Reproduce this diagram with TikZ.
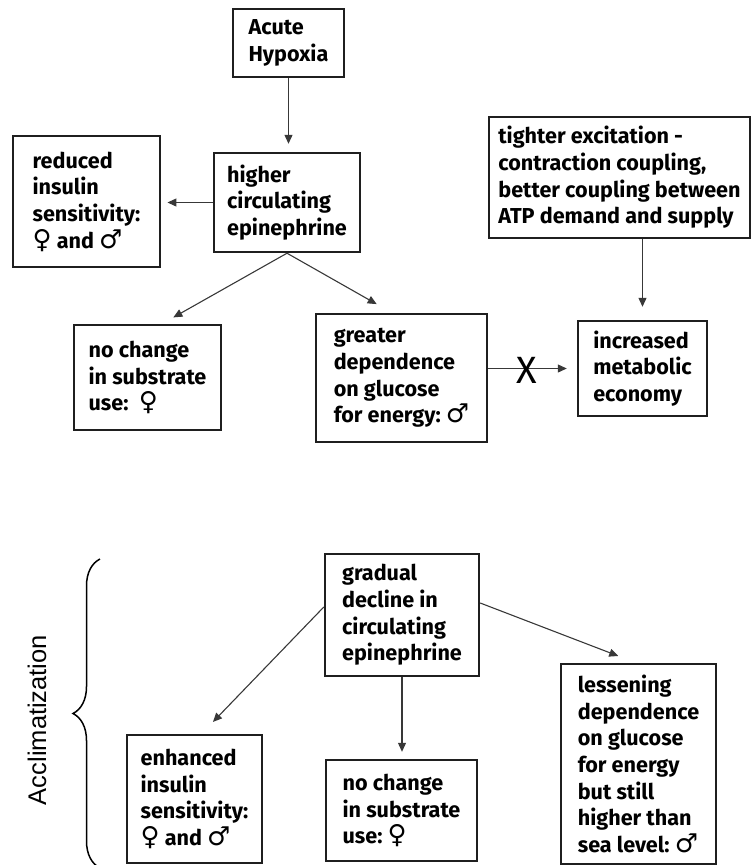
\documentclass[tikz,border=0pt]{standalone}
\usepackage{fontspec}
\setmainfont{Fira Sans}[Ligatures=NoCommon]
\newfontfamily\symf{DejaVu Sans}
\newfontfamily\labf{Liberation Sans}
\usetikzlibrary{arrows.meta,decorations.pathreplacing,calc}
\newcommand{\fem}{{\symf\mdseries\fontsize{26}{26.7}\selectfont ♀}}
\newcommand{\mal}{{\symf\mdseries\fontsize{26}{26.7}\selectfont ♂}}
\begin{document}
\begin{tikzpicture}[x=1pt,y=-1pt,
  box/.style={draw=black!88, line width=2.4pt, align=left,
    font=\bfseries\fontsize{21.6}{26.7}\selectfont, inner sep=0pt},
  arr/.style={draw=black!78, line width=1.1pt,
    -{Triangle[length=9pt,width=8pt]}},
]
\useasboundingbox (0,0) rectangle (752,865);

% top part
\node[box, minimum width=111pt, minimum height=68pt] (acute) at (288.5,43) {Acute\\Hypoxia};
\node[box, minimum width=146pt, minimum height=99pt] (higher) at (287,202.5) {higher\\circulating\\epinephrine};
\node[box, line width=2.9pt, minimum width=147pt, minimum height=131pt] (reduced) at (86.5,201.5) {reduced\\insulin\\sensitivity:\\\fem{} and \mal};
\node[box, minimum width=261pt, minimum height=121pt] (tighter) at (619.5,177.5) {tighter excitation -\\contraction coupling,\\better coupling between\\ATP demand and supply};
\node[box, minimum width=147pt, minimum height=105pt] (nochangeA) at (147.5,377.5) {no change\\in substrate\\use:\ \ \fem};
\node[box, minimum width=171pt, minimum height=128pt] (greater) at (401.5,378) {greater\\dependence\\on glucose\\for energy:\ \mal};
\node[box, minimum width=129pt, minimum height=95pt] (increased) at (642.5,368.5) {increased\\metabolic\\economy};

% bottom part
\node[box, minimum width=154pt, minimum height=122pt] (gradual) at (402,615) {gradual\\decline in\\circulating\\epinephrine};
\node[box, minimum width=135pt, minimum height=128pt] (enhanced) at (194.5,799) {enhanced\\insulin\\sensitivity:\\\fem{} and \mal};
\node[box, minimum width=151pt, minimum height=101pt] (nochangeB) at (401.5,810.5) {no change\\in substrate\\use:\ \fem};
\node[box, minimum width=155pt, minimum height=200pt] (lessening) at (638.5,764) {lessening\\dependence\\on glucose\\for energy\\but still\\higher than\\sea level:\ \mal};

\node[font=\labf\fontsize{25.5}{30}\selectfont, rotate=90, inner sep=0pt] (accl) at (37,720) {Acclimatization};
\draw[line width=1.5pt, decorate, decoration={brace, amplitude=27pt}] (100,868) -- (100,559);

% connectors
\draw[arr, shorten >=8pt] (acute.south) -- (acute.south |- higher.north);
\draw[arr, shorten >=6pt] (higher.west) -- (higher.west -| reduced.east);
\draw[arr, shorten >=13pt] (higher.south) -- ($(nochangeA.north)+(14.5,0)$);
\draw[arr, shorten >=17.6pt] (higher.south) -- ($(greater.north)+(-9.5,0)$);
\draw[arr, shorten >=13pt] (tighter.south -| increased.north) -- (increased.north);
\draw[arr, shorten >=10pt] (greater.east |- increased.west) -- (increased.west);
\node[font=\fontsize{38}{40}\selectfont, inner sep=0pt] (xmark) at (527,370) {X};

\draw[arr, shorten >=16.5pt] ($(gradual.west)+(0,-8)$) -- ($(enhanced.north)+(7,0)$);
\draw[arr, shorten >=7pt] (gradual.south) -- (gradual.south |- nochangeB.north);
\draw[arr, shorten >=19pt] ($(gradual.east)+(0,-12)$) -- ($(lessening.north)+(-2.5,0)$);
\end{tikzpicture}
\end{document}
